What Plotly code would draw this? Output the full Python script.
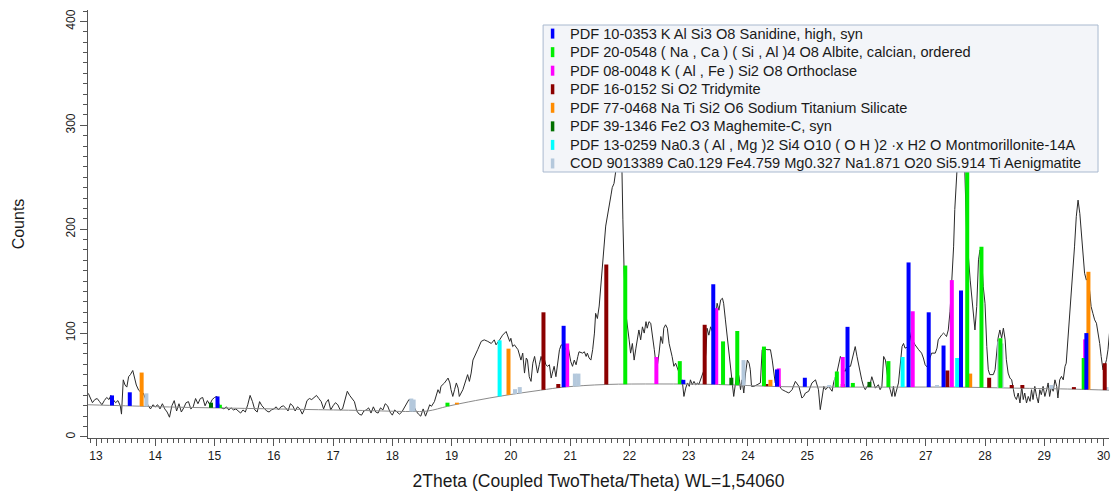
import numpy as np
import plotly.graph_objects as go

# ---------------- observed scan ----------------
obs_2theta = [
12.87,12.90,12.94,12.98,13.02,13.06,13.10,13.14,13.18,13.22,13.25,13.29,13.33,13.37,13.41,13.43,13.46,13.49,13.52,13.55,
13.58,13.62,13.65,13.68,13.72,13.76,13.80,13.84,13.88,13.92,13.96,14.00,14.04,14.08,14.12,14.16,14.20,14.24,14.28,14.32,
14.36,14.40,14.44,14.48,14.52,14.56,14.60,14.64,14.68,14.72,14.76,14.80,14.84,14.88,14.92,14.96,15.00,15.04,15.08,15.12,
15.16,15.20,15.24,15.28,15.32,15.36,15.40,15.44,15.48,15.52,15.56,15.60,15.64,15.68,15.72,15.76,15.80,15.84,15.88,15.92,
15.96,16.00,16.04,16.08,16.12,16.16,16.20,16.24,16.28,16.32,16.36,16.40,16.44,16.48,16.52,16.56,16.60,16.64,16.68,16.72,
16.76,16.80,16.84,16.88,16.92,16.96,17.00,17.04,17.08,17.12,17.16,17.20,17.24,17.28,17.32,17.36,17.40,17.44,17.48,17.52,
17.56,17.60,17.64,17.68,17.72,17.76,17.80,17.84,17.88,17.92,17.96,18.00,18.04,18.08,18.12,18.16,18.20,18.24,18.28,18.32,
18.36,18.40,18.44,18.48,18.52,18.56,
18.60,18.63,18.66,18.71,18.77,18.80,18.82,18.88,18.94,18.97,18.99,19.02,19.05,19.08,19.11,19.13,19.19,19.25,19.27,19.30,
19.33,19.36,19.39,19.44,19.50,19.55,19.61,19.67,19.72,19.75,19.81,19.86,19.92,19.95,19.98,20.00,20.03,20.06,20.12,20.17,
20.20,20.23,20.26,20.28,20.31,20.34,20.37,20.40,20.42,20.45,20.48,20.51,20.54,20.56,20.59,20.62,20.65,20.68,20.70,20.73,
20.76,20.79,20.82,20.85,20.90,20.93,20.96,21.01,21.04,21.07,21.10,21.13,21.15,21.21,21.24,21.27,21.29,21.32,21.35,21.38,
21.41,21.43,21.46,21.49,21.52,21.57,21.60,21.69,21.71,21.74,21.77,21.80,21.83,21.86,21.88,21.89,21.91,21.94,21.995,22.02,
22.05,22.08,22.11,22.14,22.16,22.19,22.22,22.25,22.28,22.30,22.33,22.36,22.39,22.42,22.44,22.47,22.50,22.53,22.56,22.58,
22.61,22.64,22.67,22.70,22.72,22.75,22.78,22.84,22.87,22.89,22.92,22.95,22.98,23.01,23.03,23.06,23.09,23.12,23.15,23.17,
23.20,23.23,23.26,23.29,23.31,23.34,23.37,23.40,23.43,23.45,23.48,23.51,23.54,23.57,23.59,23.62,23.65,23.68,23.71,23.73,
23.76,23.79,23.82,23.85,23.875,23.90,23.93,23.96,23.99,
24.02,24.04,24.06,24.10,24.155,24.21,24.24,24.27,24.32,24.38,24.41,24.435,24.46,24.49,24.52,24.55,24.58,24.63,24.69,24.745,
24.80,24.86,24.91,24.94,24.97,25.025,25.08,25.14,25.19,25.22,25.25,25.28,25.31,25.36,25.42,25.45,25.50,25.53,25.56,25.59,
25.61,25.64,25.67,25.73,25.78,25.81,25.84,25.87,25.92,25.95,25.98,26.01,26.06,26.09,26.12,26.15,26.20,26.23,26.26,26.29,
26.32,26.37,26.40,26.43,26.455,26.48,26.54,26.57,26.60,26.625,26.65,26.71,26.74,26.765,26.79,26.82,26.88,26.93,26.96,26.99,
27.045,27.07,27.10,27.16,27.19,27.21,27.27,27.30,27.33,27.35,27.38,27.41,27.44,27.47,27.49,27.52,27.56,27.60,27.64,27.66,
27.69,27.75,27.80,27.83,27.86,27.89,27.915,27.94,27.97,28.00,28.03,28.055,28.08,28.14,28.17,28.20,28.22,28.25,28.28,28.31,
28.34,28.36,28.39,28.42,28.45,28.48,28.50,28.53,28.56,28.59,28.62,28.645,28.67,28.70,28.73,28.76,28.785,28.81,28.84,28.87,
28.90,28.925,28.95,28.98,29.01,29.04,29.065,29.09,29.12,29.15,29.18,29.21,29.23,29.26,29.29,29.32,29.35,29.37,29.40,29.43,
29.46,29.49,29.51,29.54,29.57,29.60,29.63,29.655,29.68,29.71,29.74,29.77,29.79,29.82,29.85,29.88,29.91,29.935,29.96,29.99,
30.02,30.05,30.075,30.10]
obs_counts = [
42,38,33,36,37,34,31,35,38,36,40,36,33,35,30,22,55,50,48,58,
60,64,56,50,45,43,42,36,30,27,31,29,31,27,32,27,24,19,30,35,
25,32,24,28,33,34,27,29,37,32,37,38,30,35,31,36,38,39,30,28,
27,29,26,28,26,27,25,23,26,24,31,40,34,26,24,34,30,27,25,24,
26,27,29,26,29,30,28,25,32,30,25,29,27,22,27,35,37,36,38,40,
37,34,27,33,36,26,30,33,31,26,27,35,44,40,37,34,25,22,21,25,
26,28,23,29,24,23,28,26,32,30,24,21,26,24,22,24,28,32,36,35,
30,25,22,20,27,20,
26,31,29.5,34,45.5,42,48.7,52,56.7,52,45.5,39,45.5,52,47,39,45.5,55,60,53.5,
61.5,74,77.5,84,92,93.5,92,90,93.5,88.7,93.5,98,101.5,96.7,92,95,87,88.7,84,74,
80.7,61.5,76,74,58,53.5,71,77.5,69.5,61.5,69.5,77.5,71,76,69.5,68,69.5,56.7,61.5,68,
58,72.7,84,88.7,87,84,88.7,72.7,68,74,69.5,77.5,82,80.7,82,77.5,80.7,76,74,84,
100,119,114,126,145,180,203,233,240,244,256,310,345,300,256,209,161,119,93.5,80.7,
90,74,85.5,96.7,103,93.5,106,100,111,104.7,111,109.5,93.5,84,74,68,80.7,96.7,90,104.7,
108,104.7,90,84,77.5,68,71,61.5,52,55,39,47,52,48.7,55,50.3,53.5,50.3,52,50.3,
55,58,64.7,80.7,104.7,98,106,101.5,116,112.7,128.7,122,132,133.5,128.7,112.7,96.7,80.7,61.5,48.7,
39,52,64.7,58,45.5,55,42.3,61.5,74,
71,64.7,48.7,48.7,50.3,52,84,85.5,84,84,74,61.5,52,50.3,55,47,45.5,44,42.3,45.5,
53.5,48.7,37.5,39,42.3,44,52,55,45.5,26.3,39,48.7,45.5,48.7,44,53.5,61.5,69.5,77.5,74,
64.7,63,68,68,80.7,87,77.5,68,55,48.7,45.5,48.7,50.3,58,52,47,50.3,45.5,48.7,77.5,
74,52,45.5,39,48.7,39,52,68,87,90,85.5,87,97.7,103,92,88.7,84,80.7,76,69.5,
66,76,80.7,80.7,85.5,93.5,98.3,100,98.3,96.7,103,121,151,183,219,251,290,320,290,254,
196,151,116,103,125.6,170.5,180,177,145,128.7,87,64.7,60,60,64.7,80.7,95,103,95,104.7,
93.5,74.3,61.5,56.7,55,45.5,39,36,42.3,32.7,48.7,36,42.3,32.7,39,34.3,45.5,36,48.7,39,
32.7,45.5,40.7,48.7,39,45.5,52,39,48.7,44,55,48.7,37.5,55,58.3,55,68,71,93.5,119,
138,164,183,212,228,215,190,170,157.6,151,154,138,125.5,119,112.7,109.5,100,90,77.5,64.7,
68,74.3,84,100]

# ---------------- background ----------------
bg_2theta = [12.865, 13.5, 14.5, 15.5, 16.5, 17.5, 18.3, 18.6, 18.93, 19.4, 19.9, 20.5, 20.9,
             21.6, 22.5, 23.5, 24.5, 25.5, 26.5, 27.5, 28.5, 29.5, 30.1]
bg_counts = [31, 30, 28.5, 27.5, 26.5, 25.5, 24.5, 25, 29.5, 35, 40, 45, 48,
             50.5, 51, 50.5, 48.5, 48, 48, 48, 47, 46, 45]

# ---------------- reference patterns (position, peak top in counts) ----------------
phase_names = [
    "PDF 10-0353 K Al Si3 O8 Sanidine, high, syn",
    "PDF 20-0548 ( Na , Ca ) ( Si , Al )4 O8 Albite, calcian, ordered",
    "PDF 08-0048 K ( Al , Fe ) Si2 O8 Orthoclase",
    "PDF 16-0152 Si O2 Tridymite",
    "PDF 77-0468 Na Ti Si2 O6 Sodium Titanium Silicate",
    "PDF 39-1346 Fe2 O3 Maghemite-C, syn",
    "PDF 13-0259 Na0.3 ( Al , Mg )2 Si4 O10 ( O H )2 \u00b7x H2 O Montmorillonite-14A",
    "COD 9013389 Ca0.129 Fe4.759 Mg0.327 Na1.871 O20 Si5.914 Ti Aenigmatite",
]
phase_colors = ["#0000ff", "#00ee00", "#ff00ff", "#8b0000", "#ff8c00", "#007000", "#00ffff", "#b4c8dc"]

sanidine_pos = [13.27, 13.57, 15.05, 20.89, 22.91, 23.415, 24.49, 24.96, 25.68, 26.71, 27.05, 27.30, 27.595, 29.71]
sanidine_top = [40, 43, 39, 107, 55, 147, 65, 57, 106, 168, 120, 88, 141, 100]
albite_pos = [15.09, 18.93, 21.93, 22.85, 23.58, 23.82, 24.27, 25.50, 25.77, 26.37, 27.70, 27.94, 28.26, 29.665]
albite_top = [31, 33, 165, 73, 92, 102, 87, 63, 52, 73, 300, 183, 95, 76]
orthoclase_pos = [20.95, 22.455, 23.465, 24.52, 25.60, 26.78, 27.44, 29.69]
orthoclase_top = [90, 77, 124, 66, 77, 121, 151, 94]
tridymite_pos = [20.55, 20.80, 21.61, 23.27, 24.31, 25.60, 27.365, 28.07, 28.45, 28.63, 29.50, 30.02]
tridymite_top = [120, 51, 166, 108, 51, 51, 64, 57, 50, 50, 48, 71]
nts_pos = [13.77, 19.09, 19.96, 24.38, 27.75, 29.745]
nts_top = [62, 33, 85, 55, 61, 159]
maghemite_pos = [14.94, 23.72, 26.05]
maghemite_top = [33, 57, 53]
montmor_pos = [19.81, 26.61, 27.53]
montmor_top = [93, 77, 76]
aenig_pos = [13.85, 18.32, 18.36, 20.07, 20.15, 21.08, 21.14, 23.43, 23.925, 25.37, 25.49, 27.19, 28.24, 28.28, 29.12, 30.05]
aenig_top = [42, 37, 36, 46, 48, 61, 61, 60, 74, 50, 57, 50, 92, 90, 50, 48]

phase_pos = [sanidine_pos, albite_pos, orthoclase_pos, tridymite_pos, nts_pos, maghemite_pos, montmor_pos, aenig_pos]
phase_top = [sanidine_top, albite_top, orthoclase_top, tridymite_top, nts_top, maghemite_top, montmor_top, aenig_top]

FONT = "Liberation Sans, Arial, sans-serif"
W, H = 1111, 493
ML, MR, MT, MB = 88, 0, 10, 55
PW, PH = W - ML - MR, H - MT - MB


def px(xp):
    return (xp - ML) / PW


def py(yp):
    return (H - MB - yp) / PH


fig = go.Figure()

# scan
fig.add_trace(go.Scatter(x=obs_2theta, y=obs_counts, mode="lines",
                         line=dict(color="#2a2a2a", width=1), showlegend=False, hoverinfo="skip"))
# background
fig.add_trace(go.Scatter(x=bg_2theta, y=bg_counts, mode="lines", line_shape="spline",
                         line=dict(color="#8a8a8a", width=1), showlegend=False, hoverinfo="skip"))

# sticks, drawn from background up to the peak top
draw_order = [7, 5, 6, 4, 3, 2, 1, 0]
for i in draw_order:
    pos = np.array(phase_pos[i], dtype=float)
    top = np.array(phase_top[i], dtype=float)
    base = np.interp(pos, bg_2theta, bg_counts)
    top = np.maximum(top, base + 1.5)
    xs, ys = [], []
    for p, b, t in zip(pos, base, top):
        xs += [p, p, None]
        ys += [b, t, None]
    fig.add_trace(go.Scatter(x=xs, y=ys, mode="lines", line=dict(color=phase_colors[i], width=4),
                             name=phase_names[i], showlegend=False, hoverinfo="skip"))

# legend box (drawn as a panel so that row spacing matches the original)
box_x0, box_x1, box_y0, box_y1 = 544, 1100, 25, 172
row0, row_step = 33.6, 18.55
shapes = [dict(type="rect", xref="paper", yref="paper", layer="above",
               x0=px(box_x0), x1=px(box_x1), y0=py(box_y1), y1=py(box_y0),
               fillcolor="#f3f5f9", line=dict(color="#a9b9cf", width=1))]
annotations = []
for k, (name, col) in enumerate(zip(phase_names, phase_colors)):
    yc = row0 + k * row_step
    shapes.append(dict(type="line", xref="paper", yref="paper", layer="above",
                       x0=px(553.5), x1=px(553.5), y0=py(yc + 5), y1=py(yc - 5),
                       line=dict(color=col, width=3.5)))
    annotations.append(dict(text=name, xref="paper", yref="paper", x=px(569), y=py(yc),
                            xanchor="left", yanchor="middle", showarrow=False,
                            font=dict(family=FONT, size=14.6, color="#1a1a1a")))

fig.update_layout(
    width=W, height=H,
    margin=dict(l=ML, r=MR, t=MT, b=MB),
    paper_bgcolor="white", plot_bgcolor="white",
    font=dict(family=FONT, color="#1a1a1a", size=12),
    showlegend=False,
    shapes=shapes, annotations=annotations,
    xaxis=dict(range=[12.865, 30.092], tick0=13, dtick=1, ticks="outside", ticklen=7,
               tickwidth=1, tickcolor="#555555", showline=True, linecolor="#555555",
               showgrid=False, zeroline=False, tickfont=dict(size=12),
               ticklabeloverflow="allow",
               minor=dict(dtick=0.1, ticks="outside", ticklen=4, tickcolor="#555555"),
               title=dict(text="2Theta (Coupled TwoTheta/Theta) WL=1,54060",
                          font=dict(size=17.5), standoff=12)),
    yaxis=dict(range=[-1, 411], tick0=0, dtick=100, ticks="outside", ticklen=7,
               tickwidth=1, tickcolor="#555555", showline=True, linecolor="#555555",
               showgrid=False, zeroline=False, tickangle=-90, tickfont=dict(size=12),
               minor=dict(dtick=10, ticks="outside", ticklen=4, tickcolor="#555555"),
               title=dict(text="Counts", font=dict(size=16), standoff=35)),
)

fig.write_html("out.html")
